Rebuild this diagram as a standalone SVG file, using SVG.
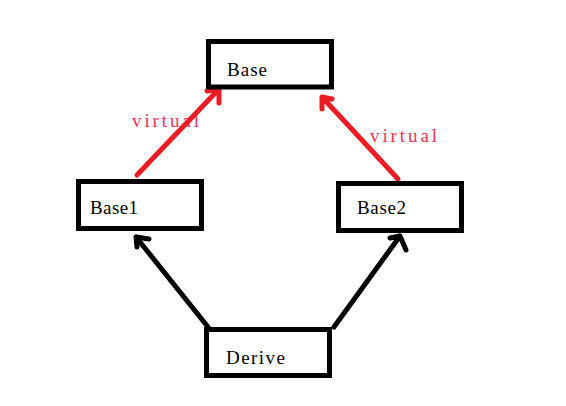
<svg xmlns="http://www.w3.org/2000/svg" width="566" height="406" viewBox="0 0 566 406">
<style>
.box{fill:#fff;stroke:#000;stroke-width:5}
.lbl{font-family:"Liberation Serif",serif;font-size:19px;fill:#000}
.virt{font-family:"Liberation Serif",serif;font-size:19px;fill:#ee3355}
.red{fill:none;stroke:#ed1c24;stroke-width:5;stroke-linecap:round;stroke-linejoin:round}
.blk{fill:none;stroke:#000;stroke-width:5;stroke-linecap:round;stroke-linejoin:round}
</style>
<rect width="566" height="406" fill="#fff"/>
<g id="connectors">
<text class="virt" x="132" y="127" textLength="67" lengthAdjust="spacing">virtual</text>
<text class="virt" x="370" y="142" textLength="67" lengthAdjust="spacing">virtual</text>
<path class="red" d="M137,175 L219,89 M207,91 L219,89 L219,103"/>
<path class="red" d="M398,179 L322,97 M332,99 L322,97 L322,109"/>
<path class="blk" d="M208,327 L136,237 M149,239 L136,237 L137,247"/>
<path class="blk" d="M334,327 L400,236 M390,238 L400,236 L406,250"/>
</g>
<g id="base">
<rect class="box" x="208.5" y="41.5" width="123" height="45.5"/>
<text class="lbl" x="227" y="76" textLength="40" lengthAdjust="spacing">Base</text>
</g>
<g id="base1">
<rect class="box" x="78.5" y="181.5" width="123" height="47"/>
<text class="lbl" x="90" y="214" textLength="48" lengthAdjust="spacing">Base1</text>
</g>
<g id="base2">
<rect class="box" x="338.5" y="183.5" width="123" height="47"/>
<text class="lbl" x="357" y="214" textLength="49" lengthAdjust="spacing">Base2</text>
</g>
<g id="derive">
<rect class="box" x="206.5" y="329.5" width="123" height="46"/>
<text class="lbl" x="226" y="364" textLength="59" lengthAdjust="spacing">Derive</text>
</g>
</svg>
